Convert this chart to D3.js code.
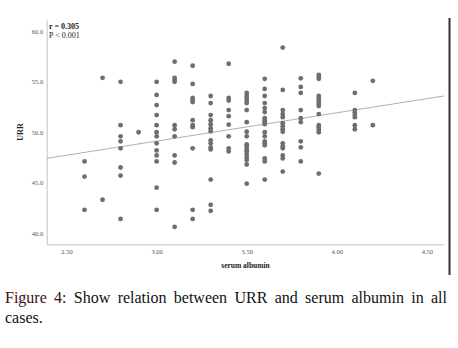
<!DOCTYPE html>
<html>
<head>
<meta charset="utf-8">
<script src="https://cdn.jsdelivr.net/npm/d3@7"></script>
<style>
  body { margin: 0; background: #fff; }
  #wrap { position: relative; width: 458px; height: 348px; overflow: hidden; }
  #chart { position: absolute; left: 0; top: 0; }
  .cap { position: absolute; left: 5px; width: 442px; font-family: "Liberation Serif", "DejaVu Serif", serif; font-size: 16px; color: #111; }
  .cap1 { top: 289px; text-align: justify; text-align-last: justify; }
  .cap2 { top: 309px; }
  .fig { color: #3a1010; }
</style>
</head>
<body>
<div id="wrap">
  <div id="chart"></div>
  <div class="cap cap1"><span class="fig">Figure 4:</span> Show relation between URR and serum albumin in all</div>
  <div class="cap cap2">cases.</div>
</div>
<script>
// serum albumin levels (columns) and URR values read at each level
const albuminLevels = [2.6, 2.7, 2.8, 2.9, 3.0, 3.1, 3.2, 3.3, 3.4, 3.5, 3.6, 3.7, 3.8, 3.9, 4.1, 4.2];
const urrByLevel = [
  [47.1, 45.6, 42.3],
  [55.4, 43.3],
  [55.0, 50.7, 49.6, 49.1, 48.4, 46.5, 45.7, 41.4],
  [50.0],
  [55.0, 53.7, 52.7, 51.7, 50.7, 50.0, 49.6, 48.9, 48.2, 47.7, 47.1, 44.5, 42.3],
  [57.0, 55.4, 55.2, 55.0, 50.7, 50.3, 49.6, 47.7, 47.0, 40.6],
  [56.6, 54.8, 53.4, 53.2, 53.0, 51.2, 50.7, 50.5, 48.4, 42.3, 41.4],
  [53.6, 52.9, 51.7, 51.2, 50.8, 50.4, 50.1, 49.2, 48.9, 48.5, 48.3, 45.3, 42.8, 42.2],
  [56.8, 53.4, 53.15, 52.2, 51.6, 50.75, 49.6, 48.4, 48.1],
  [53.9, 53.6, 53.4, 53.1, 52.9, 52.2, 51.0, 50.05, 49.6, 48.8, 48.6, 48.3, 48.1, 47.8, 47.5, 47.25, 46.8, 44.9],
  [55.3, 54.3, 53.6, 52.9, 52.4, 52.0, 51.4, 51.2, 51.0, 50.8, 50.0, 49.6, 49.1, 48.9, 48.7, 47.4, 47.1, 45.3],
  [58.4, 54.2, 52.2, 51.8, 51.5, 50.9, 50.6, 50.3, 50.05, 48.9, 48.6, 48.4, 47.7, 47.4, 46.1],
  [55.35, 54.5, 53.9, 52.2, 51.4, 51.0, 49.1, 48.5, 47.1],
  [55.7, 55.5, 55.3, 53.6, 53.4, 53.2, 53.0, 52.8, 52.6, 51.8, 50.7, 50.5, 50.25, 50.0, 45.9],
  [53.9, 52.2, 51.95, 51.7, 51.5, 50.7, 50.3],
  [55.1, 50.7]
];
const xTicks = [2.5, 3.0, 3.5, 4.0, 4.5];
const yTicks = [40, 45, 50, 55, 60];
// fit line end points
const fitX = [2.39, 4.595];
const fitY = [47.41, 53.6];

let points = [];
albuminLevels.forEach(function(a, i) {
    urrByLevel[i].forEach(function(u) { points.push({x: a, y: u}); });
});

let svgWidth = 458, svgHeight = 288;
let plot = {left: 46.7, right: 444, top: 20, bottom: 244.3};

let x = d3.scaleLinear().domain([2.39, 4.595]).range([plot.left, plot.right]);
let y = d3.scaleLinear().domain([38.88, 61.14]).range([plot.bottom, plot.top]);

let svg = d3.select("#chart").append("svg")
    .attr("width", svgWidth)
    .attr("height", svgHeight)
    .style("font-family", "'Liberation Serif', serif");

let xAxis = d3.axisBottom(x).tickValues(xTicks).tickFormat(d3.format(".2f")).tickSize(0).tickPadding(5);
let yAxis = d3.axisLeft(y).tickValues(yTicks).tickFormat(d3.format(".1f")).tickSize(0).tickPadding(3.5);

svg.append("g")
    .attr("transform", "translate(0," + plot.bottom + ")")
    .call(xAxis)
    .call(g => g.select(".domain").attr("stroke", "#c4c4c4"))
    .call(g => g.selectAll("text").attr("fill", "#555").style("font-size", "6.5px").style("font-family", "'Liberation Serif', serif"));

svg.append("g")
    .attr("transform", "translate(" + plot.left + ",0)")
    .call(yAxis)
    .call(g => g.select(".domain").attr("stroke", "#c4c4c4"))
    .call(g => g.selectAll("text").attr("fill", "#555").style("font-size", "6.5px").style("font-family", "'Liberation Serif', serif"));

// regression line
svg.append("line")
    .attr("x1", x(fitX[0])).attr("y1", y(fitY[0]))
    .attr("x2", x(fitX[1])).attr("y2", y(fitY[1]))
    .attr("stroke", "#b0b0b0")
    .attr("stroke-width", 1);

svg.selectAll(".dot")
    .data(points)
    .enter()
    .append("circle")
    .attr("class", "dot")
    .attr("cx", d => x(d.x))
    .attr("cy", d => y(d.y))
    .attr("r", 2.4)
    .attr("fill", "#6e6e6e");

// stats text
svg.append("text").attr("x", 49).attr("y", 29)
    .style("font-size", "8px").style("font-weight", "bold").attr("fill", "#222")
    .text("r = 0.305");
svg.append("text").attr("x", 49).attr("y", 38)
    .style("font-size", "8px").attr("fill", "#222")
    .text("P < 0.001");

// axis titles
svg.append("text")
    .attr("transform", "translate(23,132) rotate(-90)")
    .attr("text-anchor", "middle")
    .style("font-size", "8px").style("font-weight", "bold").attr("fill", "#222")
    .text("URR");
svg.append("text")
    .attr("x", 245.5).attr("y", 268)
    .attr("text-anchor", "middle")
    .style("font-size", "7.5px").style("font-weight", "bold").attr("fill", "#222")
    .text("serum albumin");

// right frame edge
svg.append("line")
    .attr("x1", 449.5).attr("x2", 449.5).attr("y1", 18).attr("y2", 275)
    .attr("stroke", "#333").attr("stroke-width", 2);
</script>
</body>
</html>
